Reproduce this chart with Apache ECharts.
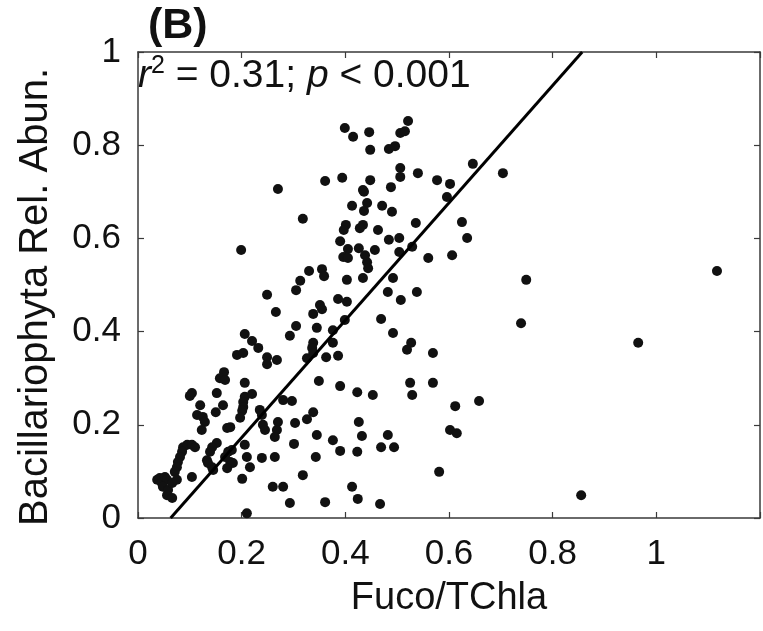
<!DOCTYPE html>
<html>
<head>
<meta charset="utf-8">
<script src="https://cdn.jsdelivr.net/npm/echarts@6/dist/echarts.min.js"></script>
<style>
  html, body { margin: 0; padding: 0; background: #fff; }
  #chart { width: 763px; height: 631px; }
</style>
</head>
<body>
<div id="chart"></div>
<script>
// Fucoxanthin / total chlorophyll-a ratio for each sample
const fucoTChla = [
  0.399, 0.415, 0.446, 0.521, 0.506, 0.515, 0.448, 0.484, 0.496, 0.646,
  0.704, 0.361, 0.394, 0.448, 0.434, 0.506, 0.506, 0.540, 0.577, 0.602,
  0.488, 0.596, 0.270, 0.436,
  0.318, 0.199, 0.330, 0.355, 0.359, 0.313, 0.305, 0.249, 0.266, 0.338,
  0.351, 0.355, 0.345, 0.305, 0.293, 0.206, 0.220, 0.232, 0.191, 0.203,
  0.249, 0.268, 0.326, 0.338, 0.336, 0.363, 0.338,
  0.413, 0.442, 0.436, 0.471, 0.490, 0.536, 0.625, 0.635, 0.401, 0.397,
  0.434, 0.428, 0.463, 0.390, 0.484, 0.504, 0.405, 0.426, 0.457, 0.504,
  0.529, 0.396, 0.405, 0.438, 0.442, 0.444, 0.560, 0.606, 0.403, 0.434,
  0.492, 0.482, 0.538, 0.507, 0.386, 0.403, 0.399, 0.376, 0.469, 0.492,
  0.376, 0.527, 0.519, 0.569, 0.386,
  0.249, 0.166, 0.158, 0.168, 0.206, 0.349, 0.104, 0.100, 0.152, 0.120,
  0.164, 0.206, 0.220, 0.203, 0.203, 0.201, 0.197, 0.150, 0.114, 0.125,
  0.129, 0.123, 0.172, 0.178, 0.235, 0.239, 0.241, 0.245, 0.280, 0.297,
  0.338, 0.326, 0.270, 0.303, 0.268, 0.264, 0.345, 0.301, 0.087, 0.095,
  0.104, 0.110, 0.085, 0.081, 0.077, 0.075, 0.071, 0.152, 0.143, 0.139,
  0.174, 0.181, 0.206, 0.210, 0.133, 0.135, 0.143, 0.145, 0.168, 0.178,
  0.183, 0.216, 0.239, 0.264, 0.172, 0.104, 0.201, 0.037, 0.042, 0.046,
  0.052, 0.056, 0.048, 0.058, 0.066, 0.075, 0.056, 0.066, 0.260, 0.280,
  0.210, 0.318, 0.293, 0.361, 0.343,
  0.390, 0.423, 0.453, 0.525, 0.529, 0.569, 0.612, 0.658, 0.426, 0.432,
  0.376, 0.390, 0.423, 0.482, 0.469, 0.494, 0.602, 0.615, 0.581, 0.413,
  0.424, 0.467,
  0.749, 0.739, 0.965, 1.117, 0.855
];

// Bacillariophyta relative abundance for the same samples
const bacilRelAbun = [
  0.837, 0.818, 0.828, 0.852, 0.826, 0.830, 0.790, 0.792, 0.798, 0.760,
  0.740, 0.723, 0.730, 0.725, 0.704, 0.751, 0.732, 0.740, 0.725, 0.717,
  0.710, 0.689, 0.706, 0.700,
  0.642, 0.575, 0.530, 0.534, 0.519, 0.509, 0.489, 0.479, 0.442, 0.438,
  0.457, 0.448, 0.408, 0.412, 0.391, 0.395, 0.380, 0.365, 0.350, 0.354,
  0.345, 0.339, 0.343, 0.376, 0.365, 0.345, 0.354,
  0.670, 0.676, 0.659, 0.670, 0.657, 0.633, 0.635, 0.601, 0.629, 0.618,
  0.629, 0.622, 0.618, 0.594, 0.597, 0.601, 0.577, 0.579, 0.575, 0.571,
  0.582, 0.560, 0.558, 0.564, 0.549, 0.536, 0.558, 0.564, 0.511, 0.515,
  0.515, 0.485, 0.485, 0.468, 0.470, 0.464, 0.425, 0.403, 0.427, 0.397,
  0.376, 0.376, 0.361, 0.354, 0.348,
  0.330, 0.313, 0.300, 0.296, 0.290, 0.294, 0.268, 0.262, 0.268, 0.242,
  0.242, 0.260, 0.266, 0.249, 0.238, 0.230, 0.215, 0.227, 0.221, 0.217,
  0.206, 0.189, 0.193, 0.195, 0.232, 0.221, 0.200, 0.189, 0.253, 0.251,
  0.227, 0.212, 0.206, 0.204, 0.189, 0.174, 0.178, 0.159, 0.152, 0.157,
  0.157, 0.152, 0.142, 0.131, 0.120, 0.109, 0.099, 0.161, 0.152, 0.142,
  0.142, 0.146, 0.157, 0.131, 0.124, 0.118, 0.109, 0.103, 0.131, 0.120,
  0.118, 0.109, 0.129, 0.131, 0.107, 0.088, 0.084, 0.082, 0.086, 0.075,
  0.088, 0.082, 0.067, 0.060, 0.075, 0.082, 0.049, 0.043, 0.067, 0.067,
  0.010, 0.092, 0.032, 0.034, 0.131,
  0.283, 0.270, 0.264, 0.290, 0.264, 0.290, 0.240, 0.251, 0.206, 0.176,
  0.167, 0.144, 0.142, 0.178, 0.152, 0.152, 0.189, 0.182, 0.099, 0.067,
  0.041, 0.030,
  0.511, 0.418, 0.376, 0.530, 0.049
];

// Least-squares fit line, given by its two end points
const fitX = [0.063, 0.857];
const fitY = [0, 1];

const xTicks = [0, 0.2, 0.4, 0.6, 0.8, 1];
const yTicks = [0, 0.2, 0.4, 0.6, 0.8, 1];

const points = fucoTChla.map((x, i) => [x, bacilRelAbun[i]]);
const fitLine = fitX.map((x, i) => [x, fitY[i]]);

const FONT = '"Liberation Sans", Arial, Helvetica, sans-serif';
const INK = '#111';
const AXIS = '#3a3a3a';

function fmt(v) {
  const r = Math.round(v * 10) / 10;
  return r === 0 ? '0' : (r === 1 ? '1' : r.toFixed(1));
}

const chart = echarts.init(document.getElementById('chart'), null, { renderer: 'canvas' });

const axisCommon = {
  type: 'value',
  min: 0,
  interval: 0.2,
  splitLine: { show: false },
  axisLine: { show: true, onZero: false, lineStyle: { color: AXIS, width: 1.5 } },
  axisTick: { show: true, inside: true, length: 6, lineStyle: { color: AXIS, width: 1.2 } }
};

chart.setOption({
  animation: false,
  backgroundColor: '#fff',
  grid: { left: 138, top: 52, right: 3, bottom: 113, containLabel: false },
  xAxis: [
    Object.assign({}, axisCommon, {
      max: 1.2,
      position: 'bottom',
      name: 'Fuco/TChla',
      nameLocation: 'middle',
      nameGap: 62,
      nameTextStyle: { fontFamily: FONT, fontSize: 38, color: INK },
      axisLabel: {
        fontFamily: FONT, fontSize: 35, color: INK, margin: 19,
        formatter: v => (xTicks.some(t => Math.abs(t - v) < 1e-6) ? fmt(v) : '')
      }
    }),
    Object.assign({}, axisCommon, {
      max: 1.2,
      position: 'top',
      axisLabel: { show: false }
    })
  ],
  yAxis: [
    Object.assign({}, axisCommon, {
      max: 1,
      position: 'left',
      name: 'Bacillariophyta Rel. Abun.',
      nameLocation: 'middle',
      nameGap: 82,
      nameTextStyle: { fontFamily: FONT, fontSize: 40, color: INK, padding: [0, 24, 0, 0] },
      axisLabel: {
        fontFamily: FONT, fontSize: 35, color: INK, margin: 17,
        formatter: v => (yTicks.some(t => Math.abs(t - v) < 1e-6) ? fmt(v) : '')
      }
    }),
    Object.assign({}, axisCommon, {
      max: 1,
      position: 'right',
      axisLabel: { show: false }
    })
  ],
  graphic: [
    {
      type: 'text',
      left: 148,
      top: 5,
      style: { text: '(B)', font: 'bold 43px ' + FONT, fill: INK }
    },
    {
      type: 'text',
      left: 138,
      top: 54,
      style: {
        text: '{i|r}{sup|2}{n| = 0.31; }{i|p}{n| < 0.001}',
        rich: {
          i: { font: 'italic 39px ' + FONT, fill: INK, verticalAlign: 'bottom' },
          n: { font: '39px ' + FONT, fill: INK, verticalAlign: 'bottom' },
          sup: { font: '25px ' + FONT, fill: INK, verticalAlign: 'top', padding: [0, 0, 17, 0] }
        }
      }
    }
  ],
  series: [
    {
      type: 'scatter',
      data: points,
      symbol: 'circle',
      symbolSize: 10,
      itemStyle: { color: '#111', opacity: 1 },
      z: 3
    },
    {
      type: 'line',
      data: fitLine,
      symbol: 'none',
      lineStyle: { color: '#000', width: 3 },
      z: 4
    }
  ]
});
</script>
</body>
</html>
